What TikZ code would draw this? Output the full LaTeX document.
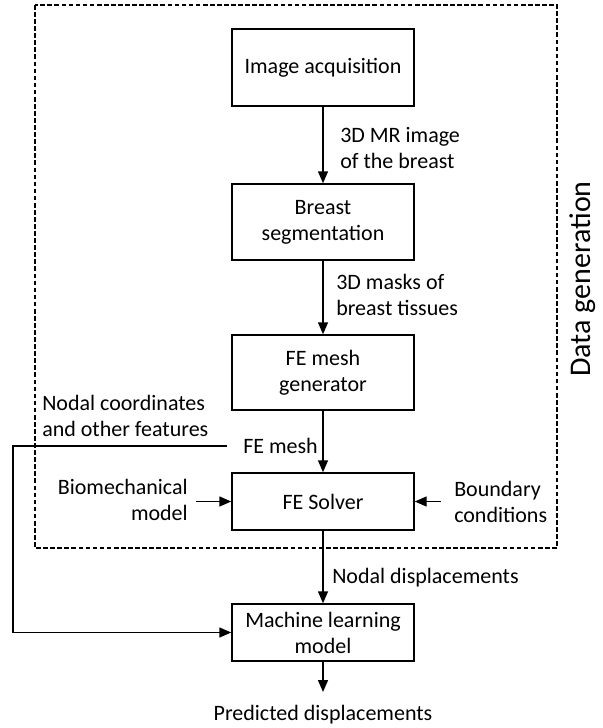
\documentclass[tikz,border=0pt]{standalone}
\usepackage{fontspec}
\setmainfont{Carlito}
\usetikzlibrary{arrows.meta}
\begin{document}
\begin{tikzpicture}[x=0.75pt,y=-0.75pt,
  box/.style={draw,line width=1.1pt,minimum width=136.5pt,align=center,inner sep=0pt,font=\fontsize{16.5}{19.5}\selectfont},
  lbl/.style={align=left,inner sep=0pt,font=\fontsize{16.5}{19.5}\selectfont},
  arr/.style={line width=1.1pt,-{Triangle[length=9pt,width=7.5pt]}},
]
\useasboundingbox (0,0) rectangle (603,728);
\draw[line width=0.9pt,dash pattern=on 3.5pt off 1.8pt] (35,5) rectangle (557,548);
\node[box,minimum height=57.75pt] (A) at (323,67.5) {Image acquisition};
\node[box,minimum height=57pt] (B) at (323,222) {Breast\\segmentation};
\node[box,minimum height=56.25pt] (C) at (323,372.5) {FE mesh\\generator};
\node[box,minimum height=42.75pt] (D) at (323,501.5) {FE Solver};
\node[box,minimum height=42.75pt] (E) at (323,632.5) {Machine learning\\model};
\node[lbl,anchor=west] (l1) at (340,148) {3D MR image\\of the breast};
\node[lbl,anchor=west] (l2) at (336,295) {3D masks of\\breast tissues};
\node[lbl,anchor=west] (fem) at (243,446) {FE mesh};
\node[lbl,anchor=west] (nc) at (42,415.5) {Nodal coordinates\\and other features};
\node[lbl,align=right,anchor=east] (bm) at (188,499.5) {Biomechanical\\model};
\node[lbl,anchor=west] (bc) at (454,502) {Boundary\\conditions};
\node[lbl,anchor=west] (nd) at (332,578) {Nodal displacements};
\node[lbl] (pd) at (323,715) {Predicted displacements};
\node[rotate=90,inner sep=0pt,font=\fontsize{22.5}{26}\selectfont] (dg) at (583,279) {Data generation};
\coordinate (pdtop) at (323,692);
\coordinate (lx) at (13,446);
\draw[arr] (A) -- (B);
\draw[arr] (B) -- (C);
\draw[arr] (C) -- (D);
\draw[arr] (D) -- (E);
\draw[arr] (E) -- (pdtop);
\draw[arr,shorten <=6pt] (bm.east |- D.west) -- (D.west);
\draw[arr,shorten <=10pt] (bc.west |- D.east) -- (D.east);
\draw[arr,shorten <=12pt] (fem.west) -- (lx) |- (E.west);
\end{tikzpicture}
\end{document}
